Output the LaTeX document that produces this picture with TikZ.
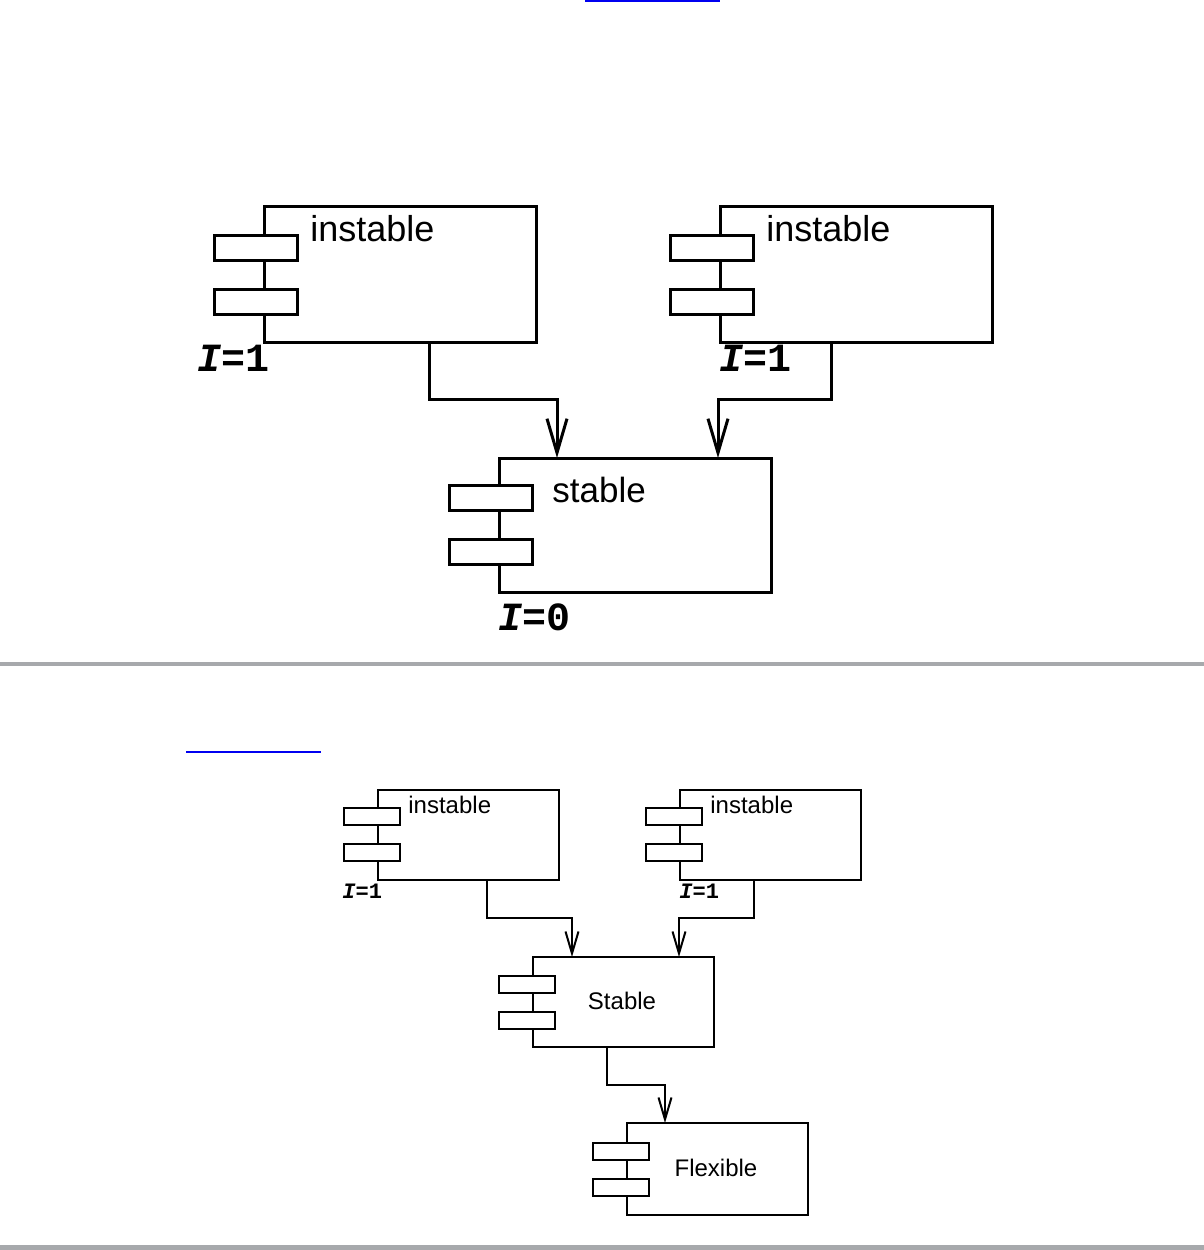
\documentclass[tikz,border=0pt]{standalone}
\usepackage{fontspec}
\setmainfont{Liberation Sans}
\newfontfamily\monof{Liberation Mono}
\usetikzlibrary{calc,arrows.meta}
\begin{document}
\begin{tikzpicture}[x=0.5pt,y=-0.5pt,
  bigbox/.style={draw, line width=1.5pt, minimum width=136pt, minimum height=68pt, inner sep=0pt, outer sep=0pt, fill=white},
  bigport/.style={draw, line width=1.5pt, minimum width=41.5pt, minimum height=12.5pt, inner sep=0pt, outer sep=0pt, fill=white},
  smallbox/.style={draw, line width=1pt, minimum width=90.5pt, minimum height=45pt, inner sep=0pt, outer sep=0pt, fill=white},
  smallport/.style={draw, line width=1pt, minimum width=28pt, minimum height=8.5pt, inner sep=0pt, outer sep=0pt, fill=white},
  bigtxt/.style={font=\fontsize{18}{20}\selectfont, inner sep=0pt, anchor=base west},
  smalltxt/.style={font=\fontsize{12}{14}\selectfont, inner sep=0pt},
  biglab/.style={font=\monof\fontsize{20}{22}\selectfont\bfseries, inner sep=0pt, anchor=base west},
  smalllab/.style={font=\monof\fontsize{11}{13}\selectfont\bfseries, inner sep=0pt, anchor=base west},
  bigarr/.style={line width=1.5pt, -{Straight Barb[length=17pt,width=10pt]}},
  smallarr/.style={line width=1pt, -{Straight Barb[length=11pt,width=6.5pt]}},
  sep/.style={draw=sepgray},
  link/.style={draw=linkblue}
]
\definecolor{sepgray}{HTML}{A7A9AC}
\definecolor{linkblue}{HTML}{0000F0}
\useasboundingbox (0,0) rectangle (1204,1250);
\fill[white] (0,0) rectangle (1204,1250);

% link underlines
\draw[link, line width=1pt] (585,1) -- (720,1);
\draw[link, line width=0.75pt] (186,752) -- (321,752);

% separators
\draw[sep, line width=2pt] (0,664) -- (1204,664);
\draw[sep, line width=2.5pt] (0,1247.5) -- (1204,1247.5);

% ===== top diagram =====
\node[bigbox] (tl) at (400,274) {};
\node[bigbox] (tr) at (856,274) {};
\node[bigbox, minimum height=67pt] (st) at (635,525) {};

\node[bigport] (tlp1) at ($(tl.north west)+(-8.5,41.5)$) {};
\node[bigport] (tlp2) at ($(tl.north west)+(-8.5,95.5)$) {};
\node[bigport] (trp1) at ($(tr.north west)+(-8.5,41.5)$) {};
\node[bigport] (trp2) at ($(tr.north west)+(-8.5,95.5)$) {};
\node[bigport] (stp1) at ($(st.north west)+(-8.5,40)$) {};
\node[bigport] (stp2) at ($(st.north west)+(-8.5,93.5)$) {};

\node[bigtxt] (tlt) at ($(tl.north west)+(46,35)$) {instable};
\node[bigtxt] (trt) at ($(tr.north west)+(46,35)$) {instable};
\node[bigtxt, font=\fontsize{17.5}{20}\selectfont] (stt) at ($(st.north west)+(53,44)$) {stable};

\node[biglab] (tll) at (197,371) {{\itshape I}=1};
\node[biglab] (trl) at (719,371) {{\itshape I}=1};
\node[biglab] (stl) at (498,630) {{\itshape I}=0};

\draw[bigarr] ($(tl.south west)+(165,0)$) -- ++(0,57) -| ($(st.north west)+(58,0)$);
\draw[bigarr] ($(tr.south west)+(111,0)$) -- ++(0,57) -| ($(st.north west)+(219,0)$);

% ===== bottom diagram =====
\node[smallbox] (bl) at (468.5,834.5) {};
\node[smallbox] (br) at (770.5,834.5) {};
\node[smallbox] (bs) at (623.5,1002) {};
\node[smallbox, minimum height=46pt] (fl) at (717.5,1169) {};

\node[smallport] (blp1) at ($(bl.north west)+(-6,26.5)$) {};
\node[smallport] (blp2) at ($(bl.north west)+(-6,62.5)$) {};
\node[smallport] (brp1) at ($(br.north west)+(-6,26.5)$) {};
\node[smallport] (brp2) at ($(br.north west)+(-6,62.5)$) {};
\node[smallport] (bsp1) at ($(bs.north west)+(-6,27.5)$) {};
\node[smallport] (bsp2) at ($(bs.north west)+(-6,63)$) {};
\node[smallport] (flp1) at ($(fl.north west)+(-6,28.5)$) {};
\node[smallport] (flp2) at ($(fl.north west)+(-6,64)$) {};

\node[smalltxt, anchor=base west] (blt) at ($(bl.north west)+(30,24)$) {instable};
\node[smalltxt, anchor=base west] (brt) at ($(br.north west)+(30,24)$) {instable};
\node[smalltxt] (bst) at (622,1001) {Stable};
\node[smalltxt] (flt) at (716,1168) {Flexible};

\node[smalllab] (bll) at (342,898) {{\itshape I}=1};
\node[smalllab] (brl) at (679,898) {{\itshape I}=1};

\draw[smallarr] ($(bl.south west)+(109,0)$) -- ++(0,38) -| ($(bs.north west)+(39,0)$);
\draw[smallarr] ($(br.south west)+(74,0)$) -- ++(0,38) -| ($(bs.north west)+(146,0)$);
\draw[smallarr] ($(bs.south west)+(74,0)$) -- ++(0,38) -| ($(fl.north west)+(38,0)$);
\end{tikzpicture}
\end{document}
